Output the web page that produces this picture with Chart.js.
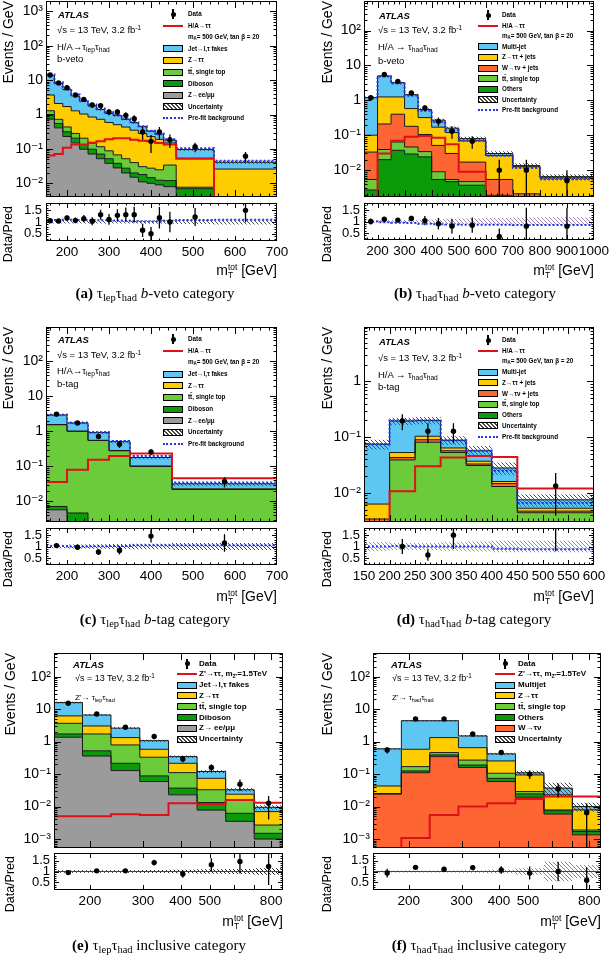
<!DOCTYPE html>
<html>
<head>
<meta charset="utf-8">
<title>mTtot distributions</title>
<script src="https://cdn.jsdelivr.net/npm/chart.js@4.4.1/dist/chart.umd.min.js"></script>
<style>
  body { margin: 0; background: #fff; }
  #page { position: relative; width: 610px; height: 956px; overflow: hidden; background: #fff; }
  .t { position: absolute; white-space: nowrap; line-height: 1; font-family: 'Liberation Sans', Arial, sans-serif; color: #000; transform: translateY(-50%); }
  .t sub { font-size: 70%; vertical-align: -0.3em; line-height: 0; }
  .t sup { font-size: 70%; vertical-align: 0.45em; line-height: 0; }
  .cap { font-family: 'Liberation Serif', 'Times New Roman', serif; font-size: 15px; transform: translate(-50%, -50%); }
  .rot { position: absolute; transform-origin: 0 0; transform: rotate(-90deg); text-align: right; white-space: nowrap; line-height: 1; font-family: 'Liberation Sans', Arial, sans-serif; }
  .ss { display: inline-block; vertical-align: -0.4em; font-size: 60%; line-height: 0.95; }
  .ss span { display: block; }
  .sw { position: absolute; box-sizing: border-box; }
</style>
</head>
<body>
<div id="page"></div>
<script>
// (a) lep-had b-veto
const aEdges = [150, 170, 190, 210, 230, 250, 270, 290, 310, 330, 350, 370, 390, 410, 430, 460, 550, 700];
const aZll = [0.73, 0.41, 0.23, 0.15, 0.098, 0.071, 0.052, 0.038, 0.028, 0.020, 0.015, 0.011, 0.010, 0.009, 0.008, 0.003, 0];
const aDiboson = [0.27, 0.14, 0.085, 0.056, 0.036, 0.027, 0.019, 0.014, 0.010, 0.0075, 0.005, 0.007, 0.0046, 0.0033, 0.004, 0.004, 0];
const aTop = [0.29, 0.175, 0.12, 0.076, 0.071, 0.058, 0.045, 0.036, 0.029, 0.0245, 0.020, 0.0125, 0.013, 0.0124, 0.022, 0.0007, 0];
const aZtt = [2.4, 1.37, 1.27, 1.0, 0.83, 0.69, 0.61, 0.5, 0.44, 0.38, 0.31, 0.25, 0.2, 0.165, 0.115, 0.046, 0.026];
const aFakes = [9.8, 5.9, 3.6, 2.2, 1.4, 0.95, 0.67, 0.49, 0.42, 0.29, 0.23, 0.17, 0.10, 0.08, 0.031, 0.042, 0.015];
const aSignal = [0.064, 0.071, 0.109, 0.134, 0.134, 0.149, 0.166, 0.192, 0.205, 0.205, 0.184, 0.173, 0.166, 0.149, 0.134, 0.052, 0];
const aPrefit = [14.6, 8.7, 5.8, 3.8, 2.65, 1.95, 1.5, 1.16, 0.99, 0.76, 0.6, 0.46, 0.34, 0.28, 0.19, 0.104, 0.045];
const aUnc = [0.06, 0.06, 0.06, 0.06, 0.06, 0.06, 0.06, 0.06, 0.06, 0.06, 0.06, 0.07, 0.07, 0.07, 0.07, 0.08, 0.1];
const aData = [14.1, 8.3, 6.0, 3.7, 2.76, 1.89, 1.81, 1.19, 1.19, 0.94, 0.76, 0.31, 0.166, 0.31, 0.184, 0.116, 0.061];
const aDataErr = [0.84, 0.64, 0.55, 0.43, 0.37, 0.31, 0.3, 0.24, 0.24, 0.22, 0.19, 0.125, 0.09, 0.125, 0.078, 0.036, 0.02];
const aRatio = [1.05, 1.04, 1.17, 1.07, 1.14, 1.03, 1.31, 1.11, 1.28, 1.31, 1.31, 0.65, 0.51, 1.18, 1.0, 1.21, 1.49];
const aRatioErr = [0.06, 0.08, 0.1, 0.12, 0.15, 0.17, 0.21, 0.23, 0.26, 0.3, 0.33, 0.28, 0.28, 0.45, 0.43, 0.38, 0.5];
const aPrefitRatio = [1.08, 1.08, 1.09, 1.08, 1.08, 1.08, 1.07, 1.07, 1.06, 1.05, 1.03, 1.02, 1.02, 1.03, 1.05, 1.08, 1.1];

// (b) had-had b-veto
const bEdges = [150, 200, 250, 300, 350, 400, 450, 500, 600, 700, 800, 1000];
const bOthers = [0.0027, 0.02, 0.037, 0.029, 0.024, 0.0054, 0.0047, 0.0037, 0.0015, 0.0014, 0.0014];
const bTop = [0.0027, 0.019, 0.027, 0.017, 0.010, 0.0036, 0.0007, 0.001, 0.0004, 0.0002, 0.0001];
const bW = [0.0276, 0.171, 0.336, 0.134, 0.071, 0.042, 0.0246, 0.0123, 0.0035, 0.0005, 0.0002];
const bZtt = [0.067, 1.04, 0.85, 0.40, 0.215, 0.119, 0.09, 0.052, 0.0206, 0.0104, 0.0043];
const bMultijet = [1.1, 3.75, 1.95, 0.87, 0.23, 0.10, 0.04, 0.011, 0.004, 0.001, 0.0005];
const bSignal = [0, 0.03, 0.07, 0.09, 0.095, 0.085, 0.055, 0.009, 0, 0, 0];
const bPrefit = [1.2, 4.85, 3.04, 1.35, 0.5, 0.24, 0.14, 0.069, 0.026, 0.0115, 0.0055];
const bUnc = [0.05, 0.05, 0.06, 0.07, 0.08, 0.1, 0.12, 0.13, 0.15, 0.17, 0.18];
const bData = [1.19, 5.5, 3.5, 1.62, 0.6, 0.25, 0.13, 0.067, 0.01, 0.01, 0.005];
const bDataErr = [0.155, 0.33, 0.26, 0.18, 0.11, 0.07, 0.051, 0.026, 0.01, 0.01, 0.005];
const bRatio = [1.0, 1.1, 1.06, 1.13, 1.04, 0.9, 0.8, 0.84, 0.35, 0.8, 0.8];
const bRatioErr = [0.13, 0.07, 0.08, 0.12, 0.2, 0.25, 0.32, 0.33, 0.35, 0.8, 0.8];
const bPrefitRatio = [1.0, 0.97, 0.95, 0.93, 0.9, 0.88, 0.87, 0.86, 0.86, 0.85, 0.85];

// (c) lep-had b-tag
const cEdges = [150, 200, 250, 300, 350, 450, 700];
const cZll = [0.0058, 0, 0, 0, 0, 0];
const cDiboson = [0.0014, 0.0047, 0, 0, 0, 0];
const cTop = [1.54, 1.0, 0.55, 0.28, 0.1, 0.022];
const cZtt = [0.02, 0.012, 0.006, 0.004, 0.003, 0.001];
const cFakes = [1.38, 0.73, 0.37, 0.226, 0.077, 0.009];
const cSignal = [0.036, 0.08, 0.155, 0.2, 0.235, 0.046];
const cPrefit = [3.0, 1.76, 0.95, 0.53, 0.2, 0.035];
const cUnc = [0.08, 0.09, 0.1, 0.11, 0.12, 0.15];
const cData = [3.1, 1.73, 0.72, 0.43, 0.26, 0.037];
const cDataErr = [0.25, 0.19, 0.12, 0.093, 0.051, 0.012];
const cRatio = [1.04, 0.97, 0.76, 0.83, 1.45, 1.15];
const cRatioErr = [0.08, 0.11, 0.13, 0.18, 0.28, 0.38];
const cPrefitRatio = [1.02, 1.0, 1.01, 1.02, 1.05, 1.05];

// (d) had-had b-tag
const dEdges = [150, 200, 250, 300, 350, 400, 450, 600];
const dOthers = [0, 0.001, 0.002, 0.002, 0.001, 0.0005, 0.0005];
const dTop = [0, 0.038, 0.079, 0.051, 0.030, 0.0125, 0.0039];
const dW = [0.0034, 0.004, 0.009, 0.004, 0.002, 0.0017, 0.0003];
const dZtt = [0.0029, 0.01, 0.014, 0.007, 0.004, 0.0013, 0.0006];
const dMultijet = [0.0687, 0.142, 0.096, 0.024, 0.02, 0.012, 0.0022];
const dSignal = [0, 0.0107, 0.03, 0.043, 0.046, 0.044, 0.012];
const dPrefit = [0.075, 0.2, 0.2, 0.088, 0.057, 0.025, 0.0066];
const dUnc = [0.2, 0.15, 0.15, 0.18, 0.22, 0.25, 0.25];
const dData = [null, 0.195, 0.128, 0.128, null, null, 0.0133];
const dDataErr = [0, 0.062, 0.05, 0.05, 0, 0, 0.0094];
const dRatio = [null, 1.0, 0.63, 1.49, null, null, 2.1];
const dRatioErr = [0, 0.32, 0.25, 0.6, 0, 0, 1.3];
const dPrefitRatio = [1.0, 1.02, 1.0, 1.0, 1.0, 0.9, 0.88];

// (e) Z' lep-had inclusive
const eEdges = [152, 189, 235, 293, 365, 454, 565, 703, 876];
const eZll = [1.36, 0.36, 0.128, 0.059, 0.023, 0.0078, 0.0035, 0.001];
const eDiboson = [0.36, 0.16, 0.087, 0.029, 0.014, 0.0055, 0.0027, 0.0005];
const eTop = [1.94, 1.2, 0.575, 0.242, 0.074, 0.0197, 0.0098, 0.0012];
const eZtt = [2.54, 1.31, 0.54, 0.25, 0.104, 0.041, 0.008, 0.0043];
const eFakes = [9.7, 3.57, 1.27, 0.49, 0.13, 0.046, 0.009, 0.0025];
const eSignal = [0.005, 0.005, 0.0058, 0.0055, 0.0126, 0.012, 0.016, 0.013];
const eUnc = [0.06, 0.06, 0.06, 0.07, 0.08, 0.1, 0.12, 0.15];
const eData = [15.1, 7.1, 2.76, 1.43, 0.29, 0.16, 0.049, 0.0126];
const eDataErr = [0.64, 0.39, 0.22, 0.14, 0.057, 0.038, 0.019, 0.0086];
const eRatio = [0.95, 1.03, 1.03, 1.41, 0.88, 1.31, 1.46, 1.23];
const eRatioErr = [0.04, 0.06, 0.08, 0.13, 0.17, 0.3, 0.55, 0.85];

// (f) Z' had-had inclusive
const fEdges = [152, 189, 235, 293, 365, 454, 565, 703, 876];
const fW = [0.0245, 0.11, 0.345, 0.16, 0.059, 0.0194, 0.0059, 0.00135];
const fOthers = [0.0003, 0.015, 0.045, 0.03, 0.015, 0.0051, 0.0015, 0.00035];
const fTop = [0.0002, 0.045, 0.07, 0.08, 0.032, 0.0045, 0.0005, 0.0002];
const fZtt = [0.018, 0.41, 0.87, 0.38, 0.148, 0.065, 0.0151, 0.006];
const fMultijet = [0.557, 3.82, 3.07, 0.85, 0.166, 0.016, 0.014, 0.0021];
const fSignal = [0, 0.00107, 0.0055, 0.01, 0.0126, 0.0172, 0.0203, 0.0203];
const fUnc = [0.05, 0.05, 0.05, 0.06, 0.08, 0.15, 0.45, 0.3];
const fData = [0.55, 5.0, 5.0, 1.72, 0.46, 0.1, 0.035, 0.0065];
const fDataErr = [0.12, 0.33, 0.29, 0.155, 0.072, 0.03, 0.016, 0.006];
const fRatio = [0.93, 1.19, 1.1, 1.18, 1.07, 0.93, 1.0, 0.6];
const fRatioErr = [0.2, 0.08, 0.07, 0.1, 0.17, 0.3, 0.45, 0.6];

// tick labels
const ticksLin700 = [200, 300, 400, 500, 600, 700];
const ticksLin1000 = [200, 300, 400, 500, 600, 700, 800, 900, 1000];
const ticksLin600 = [150, 200, 250, 300, 350, 400, 450, 500, 550, 600];
const ticksLog = [200, 300, 400, 500, 800];

const C = {
  fakes: '#5ec6f2', ztt: '#ffcc00', top: '#6ccb3a', vv: '#0a9a0a', zll: '#9b9b9b',
  w: '#fd6532', sig: '#e0101a', pre: '#2236f0'
};

Chart.defaults.font.family = "'Liberation Sans', Arial, 'DejaVu Sans', sans-serif";
Chart.defaults.color = '#000';

const page = document.getElementById('page');

const SUP = { '-': '⁻', '0': '⁰', '1': '¹', '2': '²', '3': '³', '4': '⁴' };
function logLabel(v) {
  const e = Math.round(Math.log10(v));
  if (e === 0) return '1';
  if (e === 1) return '10';
  return '10' + String(e).split('').map(ch => SUP[ch]).join('');
}
function decades(min, max) {
  const out = [];
  for (let e = Math.ceil(Math.log10(min)); e <= Math.floor(Math.log10(max)); e++) out.push(Math.pow(10, e));
  return out;
}
function logMinors(min, max) {
  const out = [];
  for (let e = Math.floor(Math.log10(min)); e <= Math.ceil(Math.log10(max)); e++) {
    for (let k = 2; k <= 9; k++) { const v = k * Math.pow(10, e); if (v > min && v < max) out.push(v); }
  }
  return out;
}
function steps(from, to, step) {
  const out = [];
  for (let v = from; v <= to + 1e-9; v += step) out.push(+v.toFixed(6));
  return out;
}
function stepData(edges, vals) {
  return edges.map((e, i) => ({ x: e, y: vals[Math.min(i, vals.length - 1)] }));
}
function pos(v) { return v > 0 ? v : 1e-9; }
function centers(edges, log) {
  return edges.slice(0, -1).map((e, i) => log ? Math.sqrt(e * edges[i + 1]) : (e + edges[i + 1]) / 2);
}
function hatch(color) {
  const tile = document.createElement('canvas');
  tile.width = tile.height = 4;
  const g = tile.getContext('2d');
  g.strokeStyle = color; g.lineWidth = 1;
  g.beginPath();
  g.moveTo(0, 0); g.lineTo(4, 4);
  g.moveTo(-1, 3); g.lineTo(1, 5);
  g.moveTo(3, -1); g.lineTo(5, 1);
  g.stroke();
  return g.createPattern(tile, 'repeat');
}
function addCanvas(left, top, w, h) {
  const c = document.createElement('canvas');
  c.width = w; c.height = h;
  c.style.cssText = `position:absolute;left:${left}px;top:${top}px;width:${w}px;height:${h}px`;
  page.appendChild(c);
  return c;
}

// frame with inward ticks on all four sides
const frame = {
  id: 'frame',
  afterDatasetsDraw(chart, args, o) {
    if (!o || !o.xMajor) return;
    const { ctx, chartArea: a } = chart;
    const xs = chart.scales.x, ys = chart.scales.y;
    ctx.save();
    ctx.strokeStyle = '#000'; ctx.lineWidth = 1;
    ctx.beginPath();
    const vt = (v, len) => {
      const p = Math.round(xs.getPixelForValue(v)) + 0.5;
      if (p < a.left || p > a.right) return;
      ctx.moveTo(p, a.bottom); ctx.lineTo(p, a.bottom - len);
      ctx.moveTo(p, a.top); ctx.lineTo(p, a.top + len);
    };
    const ht = (v, len) => {
      const p = Math.round(ys.getPixelForValue(v)) + 0.5;
      if (p < a.top || p > a.bottom) return;
      ctx.moveTo(a.left, p); ctx.lineTo(a.left + len, p);
      ctx.moveTo(a.right, p); ctx.lineTo(a.right - len, p);
    };
    o.xMajor.forEach(v => vt(v, o.maj));
    o.xMinor.forEach(v => vt(v, o.min));
    o.yMajor.forEach(v => ht(v, o.maj));
    o.yMinor.forEach(v => ht(v, o.min));
    ctx.stroke();
    ctx.strokeRect(Math.round(a.left) + 0.5, Math.round(a.top) + 0.5, Math.round(a.right - a.left) - 1, Math.round(a.bottom - a.top) - 1);
    ctx.restore();
  }
};

// vertical error bars on the data points
const errbars = {
  id: 'errbars',
  afterDatasetsDraw(chart, args, o) {
    if (!o || !o.err) return;
    const { ctx, chartArea: a } = chart, ys = chart.scales.y;
    const ds = chart.data.datasets[o.index], meta = chart.getDatasetMeta(o.index);
    ctx.save();
    ctx.beginPath(); ctx.rect(a.left, a.top, a.right - a.left, a.bottom - a.top); ctx.clip();
    ctx.beginPath(); ctx.strokeStyle = '#000'; ctx.lineWidth = 1.3;
    ds.data.forEach((d, i) => {
      if (d.y == null) return;
      const e = o.err[i], x = meta.data[i].x;
      const lo = d.y - e > ys.min ? ys.getPixelForValue(d.y - e) : a.bottom;
      ctx.moveTo(x, lo); ctx.lineTo(x, ys.getPixelForValue(d.y + e));
    });
    ctx.stroke();
    ctx.restore();
  }
};
Chart.register(frame, errbars);

const YW = 44;

function drawMain(p) {
  const left = p.area[0] - YW, top = Math.max(0, p.main[0] - 14);
  const w = p.area[1] - left + 16, h = p.main[1] - top + 3;
  const cv = addCanvas(left, top, w, h);
  const datasets = [];
  let run = p.edges.slice(1).map(() => 0);
  p.comps.forEach(([vals, color], k) => {
    run = run.map((r, i) => r + vals[i]);
    datasets.push({ data: stepData(p.edges, run.map(pos)), stepped: true, borderColor: '#1a1a1a', borderWidth: 1,
      backgroundColor: color, fill: k === 0 ? 'start' : '-1', pointRadius: 0, order: 10 });
  });
  const total = run;
  datasets.push({ data: stepData(p.edges, total.map((t, i) => t * (1 + p.unc[i]))), stepped: true,
    borderWidth: 0, borderColor: 'rgba(0,0,0,0)', fill: false, pointRadius: 0, order: 6 });
  datasets.push({ data: stepData(p.edges, total.map((t, i) => t * (1 - p.unc[i]))), stepped: true,
    borderWidth: 0, borderColor: 'rgba(0,0,0,0)', backgroundColor: hatch(p.hatchMain), fill: '-1', pointRadius: 0, order: 6 });
  if (p.prefit) datasets.push({ data: stepData(p.edges, p.prefit), stepped: true, borderColor: C.pre, borderWidth: 2,
    borderDash: [2, 2], fill: false, pointRadius: 0, order: 4 });
  datasets.push({ data: stepData(p.edges, p.signal.map(pos)), stepped: true, borderColor: C.sig, borderWidth: 2,
    fill: false, pointRadius: 0, order: 3 });
  const mid = centers(p.edges, p.x.log);
  datasets.push({ data: mid.map((c, i) => ({ x: c, y: p.data[i] })), showLine: false, pointRadius: 2.7,
    pointBackgroundColor: '#000', pointBorderWidth: 0, order: 1 });

  new Chart(cv, {
    type: 'line',
    data: { datasets },
    options: {
      animation: false, responsive: false, events: [],
      layout: { autoPadding: false, padding: { left: 0, right: 16, top: p.main[0] - top, bottom: 3 } },
      plugins: {
        legend: { display: false }, tooltip: { enabled: false },
        filler: { drawTime: 'beforeDatasetsDraw' },
        errbars: { index: datasets.length - 1, err: p.dataErr },
        frame: { xMajor: p.x.major, xMinor: p.x.minor, yMajor: decades(p.y.min, p.y.max),
          yMinor: logMinors(p.y.min, p.y.max), maj: 7, min: 3.5 }
      },
      scales: {
        x: { type: p.x.log ? 'logarithmic' : 'linear', min: p.x.min, max: p.x.max, display: false },
        y: {
          type: 'logarithmic', min: p.y.min, max: p.y.max, bounds: 'data',
          afterBuildTicks: s => { s.ticks = decades(p.y.min, p.y.max).map(v => ({ value: v })); },
          afterFit: s => { s.width = YW; s.paddingTop = 0; s.paddingBottom = 0; },
          grid: { display: false, drawTicks: false }, border: { display: false },
          ticks: { callback: logLabel, font: { size: 14 }, padding: 3, autoSkip: false }
        }
      }
    }
  });
}

function drawRatio(p) {
  const XH = 26;
  const left = p.area[0] - YW, top = p.ratio[0] - 3;
  const w = p.area[1] - left + 16, h = p.ratio[1] - top + XH;
  const cv = addCanvas(left, top, w, h);
  const datasets = [];
  datasets.push({ data: stepData(p.edges, p.unc.map(u => 1 + u)), stepped: true, borderWidth: 0,
    borderColor: 'rgba(0,0,0,0)', fill: false, pointRadius: 0, order: 6 });
  datasets.push({ data: stepData(p.edges, p.unc.map(u => 1 - u)), stepped: true, borderWidth: 0,
    borderColor: 'rgba(0,0,0,0)', backgroundColor: hatch(p.hatchRatio), fill: '-1', pointRadius: 0, order: 6 });
  if (p.oneLine) datasets.push({ data: [{ x: p.x.min, y: 1 }, { x: p.x.max, y: 1 }], borderColor: '#444',
    borderWidth: 1, fill: false, pointRadius: 0, order: 5 });
  if (p.prefitRatio) datasets.push({ data: stepData(p.edges, p.prefitRatio), stepped: true, borderColor: C.pre,
    borderWidth: 2, borderDash: [2, 2], fill: false, pointRadius: 0, order: 4 });
  const mid = centers(p.edges, p.x.log);
  datasets.push({ data: mid.map((c, i) => ({ x: c, y: p.ratioVals[i] })), showLine: false, pointRadius: 2.7,
    pointBackgroundColor: '#000', pointBorderWidth: 0, order: 1 });

  new Chart(cv, {
    type: 'line',
    data: { datasets },
    options: {
      animation: false, responsive: false, events: [],
      layout: { autoPadding: false, padding: { left: 0, right: 16, top: 3, bottom: 0 } },
      plugins: {
        legend: { display: false }, tooltip: { enabled: false },
        filler: { drawTime: 'beforeDatasetsDraw' },
        errbars: { index: datasets.length - 1, err: p.ratioErr },
        frame: { xMajor: p.x.major, xMinor: p.x.minor, yMajor: [0.5, 1, 1.5],
          yMinor: steps(0.3, 1.7, 0.1).filter(v => Math.abs(v * 2 - Math.round(v * 2)) > 1e-6), maj: 5, min: 2.5 }
      },
      scales: {
        x: {
          type: p.x.log ? 'logarithmic' : 'linear', min: p.x.min, max: p.x.max, bounds: 'data',
          afterBuildTicks: s => { s.ticks = p.x.labels.map(v => ({ value: v })); },
          afterFit: s => { s.height = XH; s.paddingLeft = 0; s.paddingRight = 0; },
          grid: { display: false, drawTicks: false }, border: { display: false },
          ticks: { callback: v => String(v), font: { size: 13.5 }, padding: 3, autoSkip: false, maxRotation: 0, minRotation: 0 }
        },
        y: {
          type: 'linear', min: p.r[0], max: p.r[1],
          afterBuildTicks: s => { s.ticks = [0.5, 1, 1.5].map(v => ({ value: v })); },
          afterFit: s => { s.width = YW; s.paddingTop = 0; s.paddingBottom = 0; },
          grid: { display: false, drawTicks: false }, border: { display: false },
          ticks: { callback: v => String(v), font: { size: 13 }, padding: 4, autoSkip: false }
        }
      }
    }
  });
}

function txt(x, y, html, css) {
  const d = document.createElement('div');
  d.className = 't';
  d.innerHTML = html;
  d.style.cssText = `left:${x}px;top:${y}px;` + (css || '');
  page.appendChild(d);
  return d;
}
function rot(x, yBottom, len, html, fs) {
  const d = document.createElement('div');
  d.className = 'rot';
  d.style.cssText = `left:${x}px;top:${yBottom}px;width:${len}px;font-size:${fs}px;`;
  d.innerHTML = html;
  page.appendChild(d);
}
function swatch(x, y, w, h) {
  const d = document.createElement('div');
  d.className = 'sw';
  d.style.cssText = `left:${x}px;top:${y}px;width:${w}px;height:${h}px;`;
  page.appendChild(d);
  return d;
}
function legend(g, rows) {
  rows.forEach(([kind, label, color], i) => {
    const cy = g.y + i * g.dy, x = g.x, w = 20;
    if (kind === 'fill' || kind === 'hatch') {
      const d = swatch(x, cy - 3.5, w, 7);
      d.style.border = '1px solid #000';
      d.style.background = kind === 'fill' ? color : 'repeating-linear-gradient(45deg, #444 0 1px, #fff 1px 2.8px)';
    } else if (kind === 'line') {
      swatch(x, cy - 1, w, 2).style.background = color;
    } else if (kind === 'dots') {
      swatch(x, cy - 1, w, 2).style.borderTop = '2px dotted ' + C.pre;
    } else if (kind === 'data') {
      swatch(x + w / 2 - 0.6, cy - 5, 1.3, 10).style.background = '#000';
      const dot = swatch(x + w / 2 - 2.5, cy - 2.5, 5, 5);
      dot.style.background = '#000'; dot.style.borderRadius = '50%';
    }
    txt(g.tx, cy, label, `font-size:${g.fs}px;font-weight:bold`);
  });
}

const TT = 't' + 't\u0304';
const legLep = [
  ['data', 'Data'], ['line', 'H/A→ττ', C.sig], ['none', 'm<sub>A</sub>= 500 GeV, tan β = 20'],
  ['fill', 'Jet→l,τ fakes', C.fakes], ['fill', 'Z→ττ', C.ztt], ['fill', TT + ', single top', C.top],
  ['fill', 'Diboson', C.vv], ['fill', 'Z→ee/μμ', C.zll], ['hatch', 'Uncertainty'], ['dots', 'Pre-fit background']
];
const legHad = [
  ['data', 'Data'], ['line', 'H/A→ττ', C.sig], ['none', 'm<sub>A</sub>= 500 GeV, tan β = 20'],
  ['fill', 'Multi-jet', C.fakes], ['fill', 'Z→ττ + jets', C.ztt], ['fill', 'W→τν + jets', C.w],
  ['fill', TT + ', single top', C.top], ['fill', 'Others', C.vv], ['hatch', 'Uncertainty'], ['dots', 'Pre-fit background']
];
const legZpLep = [
  ['data', 'Data'], ['line', "Z'→ττ, m<sub>Z'</sub>=1.5TeV", C.sig], ['fill', 'Jet→l,τ fakes', C.fakes],
  ['fill', 'Z→ττ', C.ztt], ['fill', TT + ', single top', C.top], ['fill', 'Diboson', C.vv],
  ['fill', 'Z→ ee/μμ', C.zll], ['hatch', 'Uncertainty']
];
const legZpHad = [
  ['data', 'Data'], ['line', "Z'→ττ, m<sub>Z'</sub>=1.5TeV", C.sig], ['fill', 'Multijet', C.fakes],
  ['fill', 'Z→ττ', C.ztt], ['fill', TT + ', single top', C.top], ['fill', 'Others', C.vv],
  ['fill', 'W→τν', C.w], ['hatch', 'Uncertainty']
];

const lin700 = { min: 150, max: 700, log: false, labels: ticksLin700, major: ticksLin700, minor: steps(160, 700, 20) };
const lin1000 = { min: 150, max: 1000, log: false, labels: ticksLin1000, major: ticksLin1000, minor: steps(160, 1000, 20) };
const lin600 = { min: 150, max: 600, log: false, labels: ticksLin600, major: ticksLin600, minor: steps(160, 600, 10) };
const logX = { min: 152, max: 876, log: true, labels: ticksLog, major: steps(200, 800, 100), minor: [] };

const panels = [
  { area: [46, 277], main: [1, 197], ratio: [203, 241], x: lin700, y: { min: 0.004, max: 2000 }, r: [0.2, 1.8],
    edges: aEdges, comps: [[aZll, C.zll], [aDiboson, C.vv], [aTop, C.top], [aZtt, C.ztt], [aFakes, C.fakes]],
    signal: aSignal, prefit: aPrefit, unc: aUnc, data: aData, dataErr: aDataErr,
    ratioVals: aRatio, ratioErr: aRatioErr, prefitRatio: aPrefitRatio, hatchMain: '#333', hatchRatio: '#555',
    leg: { x: 163, tx: 188, y: 14, dy: 11.6, fs: 6.3 }, legRows: legLep,
    info: { x: 57, y: [15, 30, 47, 59], proc: 'H/A→τ<sub>lep</sub>τ<sub>had</sub>', cat: 'b-veto', fs: 9.5 },
    yt: 1, xt: 271, cap: [155, 293, '<b>(a)</b> τ<sub>lep</sub>τ<sub>had</sub> <i>b</i>-veto category'] },
  { area: [364, 594], main: [1, 197], ratio: [203, 240], x: lin1000, y: { min: 0.0017, max: 700 }, r: [0.2, 1.8],
    edges: bEdges, comps: [[bOthers, C.vv], [bTop, C.top], [bW, C.w], [bZtt, C.ztt], [bMultijet, C.fakes]],
    signal: bSignal, prefit: bPrefit, unc: bUnc, data: bData, dataErr: bDataErr,
    ratioVals: bRatio, ratioErr: bRatioErr, prefitRatio: bPrefitRatio, hatchMain: '#444', hatchRatio: '#9a88b0',
    leg: { x: 478, tx: 502, y: 15, dy: 10.6, fs: 6.3 }, legRows: legHad,
    info: { x: 378, y: [16, 30, 47, 61], proc: 'H/A → τ<sub>had</sub>τ<sub>had</sub>', cat: 'b-veto', fs: 9.5 },
    yt: 320, xt: 271, cap: [475, 293, '<b>(b)</b> τ<sub>had</sub>τ<sub>had</sub> <i>b</i>-veto category'] },
  { area: [46, 277], main: [327, 522], ratio: [528, 565], x: lin700, y: { min: 0.0026, max: 950 }, r: [0.2, 1.8],
    edges: cEdges, comps: [[cZll, C.zll], [cDiboson, C.vv], [cTop, C.top], [cZtt, C.ztt], [cFakes, C.fakes]],
    signal: cSignal, prefit: cPrefit, unc: cUnc, data: cData, dataErr: cDataErr,
    ratioVals: cRatio, ratioErr: cRatioErr, prefitRatio: cPrefitRatio, hatchMain: '#555', hatchRatio: '#444',
    leg: { x: 163, tx: 188, y: 339, dy: 11.67, fs: 6.3 }, legRows: legLep,
    info: { x: 57, y: [340, 355, 371, 384], proc: 'H/A→τ<sub>lep</sub>τ<sub>had</sub>', cat: 'b-tag', fs: 9.5 },
    yt: 1, xt: 597, cap: [155, 619, '<b>(c)</b> τ<sub>lep</sub>τ<sub>had</sub> <i>b</i>-tag category'] },
  { area: [364, 594], main: [327, 522], ratio: [528, 565], x: lin600, y: { min: 0.003, max: 9.5 }, r: [0.2, 1.8],
    edges: dEdges, comps: [[dOthers, C.vv], [dTop, C.top], [dW, C.w], [dZtt, C.ztt], [dMultijet, C.fakes]],
    signal: dSignal, prefit: dPrefit, unc: dUnc, data: dData, dataErr: dDataErr,
    ratioVals: dRatio, ratioErr: dRatioErr, prefitRatio: dPrefitRatio, hatchMain: '#555', hatchRatio: '#9a88b0',
    leg: { x: 478, tx: 502, y: 340, dy: 10.73, fs: 6.3 }, legRows: legHad,
    info: { x: 378, y: [342, 358, 375, 387], proc: 'H/A → τ<sub>had</sub>τ<sub>had</sub>', cat: 'b-tag', fs: 9.5 },
    yt: 320, xt: 597, cap: [474, 619, '<b>(d)</b> τ<sub>had</sub>τ<sub>had</sub> <i>b</i>-tag category'] },
  { area: [54, 283], main: [653, 848], ratio: [853, 890], x: logX, y: { min: 0.00053, max: 535 }, r: [0.15, 1.85],
    edges: eEdges, comps: [[eZll, C.zll], [eDiboson, C.vv], [eTop, C.top], [eZtt, C.ztt], [eFakes, C.fakes]],
    signal: eSignal, prefit: null, unc: eUnc, data: eData, dataErr: eDataErr,
    ratioVals: eRatio, ratioErr: eRatioErr, prefitRatio: null, oneLine: true, hatchMain: '#333', hatchRatio: '#222',
    leg: { x: 177, tx: 199, y: 663.5, dy: 10.8, fs: 8 }, legRows: legZpLep,
    info: { x: 75, y: [665, 678, 698], proc: "Z'→ τ<sub>lep</sub>τ<sub>had</sub>", fs: 9, ax: 73 },
    yt: 3, xt: 922, cap: [159, 945, '<b>(e)</b> τ<sub>lep</sub>τ<sub>had</sub> inclusive category'] },
  { area: [373, 601], main: [653, 848], ratio: [853, 890], x: logX, y: { min: 0.00053, max: 535 }, r: [0.15, 1.85],
    edges: fEdges, comps: [[fW, C.w], [fOthers, C.vv], [fTop, C.top], [fZtt, C.ztt], [fMultijet, C.fakes]],
    signal: fSignal, prefit: null, unc: fUnc, data: fData, dataErr: fDataErr,
    ratioVals: fRatio, ratioErr: fRatioErr, prefitRatio: null, oneLine: true, hatchMain: '#444', hatchRatio: '#8a78a8',
    leg: { x: 495, tx: 518, y: 663.5, dy: 10.8, fs: 8 }, legRows: legZpHad,
    info: { x: 392, y: [665, 678, 698], proc: "Z'→ τ<sub>had</sub>τ<sub>had</sub>", fs: 9, ax: 391 },
    yt: 320, xt: 922, cap: [479, 945, '<b>(f)</b> τ<sub>had</sub>τ<sub>had</sub> inclusive category'] }
];

panels.forEach(p => {
  drawMain(p);
  drawRatio(p);
  legend(p.leg, p.legRows);
  const inf = p.info;
  txt(inf.ax || inf.x + 1, inf.y[0], 'ATLAS', 'font-size:9.5px;font-weight:bold;font-style:italic');
  txt(inf.x, inf.y[1], '√s = 13 TeV, 3.2 fb<sup>-1</sup>', `font-size:${inf.fs}px`);
  txt(inf.x, inf.y[2], inf.proc, `font-size:${inf.cat ? inf.fs : 8}px`);
  if (inf.cat) txt(inf.x, inf.y[3], inf.cat, `font-size:${inf.fs}px`);
  rot(p.yt, p.main[1], p.main[1] - p.main[0], 'Events / GeV', 14);
  rot(p.yt + 1, p.ratio[0] + 3 + 62, 62, 'Data/Pred', 12.5);
  txt(p.area[1], p.xt, 'm<span class="ss"><span>tot</span><span>T</span></span> [GeV]', 'font-size:14px;transform:translate(-100%,-50%)');
  const c = txt(p.cap[0], p.cap[1], p.cap[2]);
  c.classList.add('cap');
});
</script>
</body>
</html>
